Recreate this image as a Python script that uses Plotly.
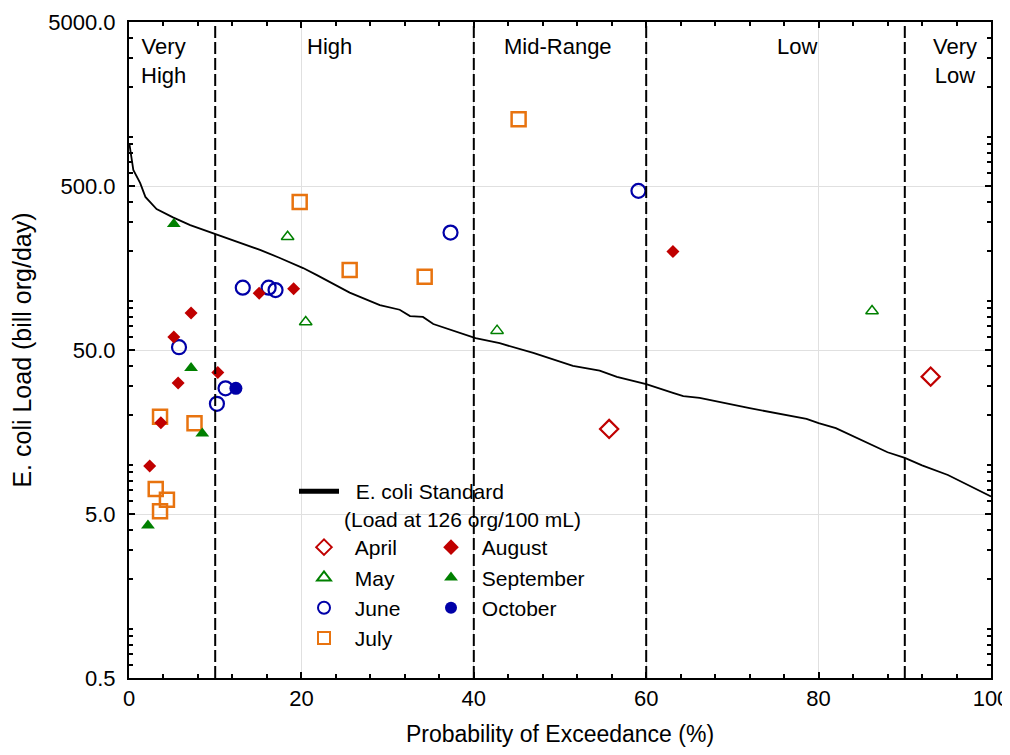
import plotly.graph_objects as go
import math

# E. coli standard duration curve (load at 126 org/100 mL)
std_x = [0.05, 0.2, 0.5, 1.3, 1.9, 3.2, 5.1, 7.1, 10, 13.6, 15.2, 17.5, 20.2, 21.8, 25.6, 29.1,
         31.4, 32.6, 34.1, 35.3, 40.2, 43, 46.9, 51.5, 54.6, 56.6, 60, 63.1, 64.3, 66.2, 72,
         78.6, 80, 82, 85, 88, 90, 92, 95, 98, 100]
std_y = [900, 800, 626, 521, 429, 362, 322, 289, 256, 218, 204, 182, 158, 143, 112, 94,
         88, 80.5, 79.5, 72, 59, 55, 48, 40, 37.4, 34.3, 31, 27.4, 26.2, 25.5, 22.1,
         19, 17.9, 16.7, 14.1, 11.9, 11.0, 9.9, 8.65, 7.2, 6.4]

april_x = [55.7, 93.0]
april_y = [16.5, 34.4]
may_x = [18.4, 20.5, 42.7, 86.2]
may_y = [245, 74, 65.6, 86.5]
june_x = [5.8, 10.2, 11.2, 13.2, 16.2, 17.0, 37.3, 59.1]
june_y = [52, 23.5, 29.2, 120, 120, 116, 260, 467]
july_x = [3.1, 3.6, 3.6, 4.4, 7.6, 19.8, 25.6, 34.3, 45.2]
july_y = [7.1, 5.2, 19.6, 6.1, 17.9, 399, 154, 140, 1276]
aug_x = [2.4, 3.7, 5.2, 5.7, 7.2, 10.3, 15.1, 19.1, 63.1]
aug_y = [9.8, 18.0, 60, 31.5, 84, 36.5, 111, 118, 199]
sep_x = [2.2, 5.2, 7.2, 8.5]
sep_y = [4.25, 293, 38.8, 15.5]
oct_x = [12.4]
oct_y = [29.2]

regime_bounds = [10, 40, 60, 90]
regime_labels = ["Very<br>High", "High", "Mid-Range", "Low", "Very<br>Low"]
regime_label_x = [4.0, 23.3, 49.8, 77.5, 95.8]

y_tickvals = [0.5, 5, 50, 500, 5000]
y_ticktext = ["0.5", "5.0", "50.0", "500.0", "5000.0"]

RED = "#C00000"
GREEN = "#008000"
BLUE = "#0000A8"
ORANGE = "#E8730F"
FONT = "Liberation Sans, Arial, sans-serif"
FS = 22
FS_XTITLE = 23
FS_YTITLE = 25
FS_LEG = 21
NB = "\u00a0"

fig = go.Figure()
fig.add_trace(go.Scatter(x=std_x, y=std_y, mode="lines", line=dict(color="black", width=1.8),
                         name=NB * 2 + "E. coli Standard<br>(Load at 126 org/100 mL)", legend="legend"))

series = [
    ("April", april_x, april_y, "diamond-open", 14, RED, 2.2, "legend2"),
    ("May", may_x, may_y, "triangle-up-open", 11, GREEN, 1.5, "legend2"),
    ("June", june_x, june_y, "circle-open", 14, BLUE, 2.2, "legend2"),
    ("July", july_x, july_y, "square-open", 14, ORANGE, 2.5, "legend2"),
    ("August", aug_x, aug_y, "diamond", 10, RED, 0, "legend3"),
    ("September", sep_x, sep_y, "triangle-up", 12, GREEN, 0, "legend3"),
    ("October", oct_x, oct_y, "circle", 13, BLUE, 0, "legend3"),
]
for name, xs, ys, sym, size, col, lw, lg in series:
    fig.add_trace(go.Scatter(x=xs, y=ys, mode="markers", name=NB + name, legend=lg,
                             marker=dict(symbol=sym, size=size, color=col,
                                         line=dict(color=col, width=lw))))

for b in regime_bounds:
    fig.add_shape(type="line", x0=b, x1=b, y0=0, y1=1, xref="x", yref="paper",
                  line=dict(color="black", width=2, dash="12px,4px"), layer="above")

for lx, lt in zip(regime_label_x, regime_labels):
    fig.add_annotation(x=lx, y=0.985, xref="x", yref="paper", text=lt, showarrow=False,
                       xanchor="center", yanchor="top", font=dict(size=FS, color="black"))

# screen pixel -> paper coordinates (plot area spans x 129..991, y 21..677 on screen)
def px2paper_x(px):
    return (px - 129) / 862.0
def px2paper_y(py):
    return (677 - py) / 656.0

# white legend backdrop hides gridlines
fig.add_shape(type="rect", xref="paper", yref="paper",
              x0=px2paper_x(296), x1=px2paper_x(606), y0=px2paper_y(654), y1=px2paper_y(470),
              fillcolor="white", line=dict(width=0), layer="between")

legend_common = dict(bgcolor="rgba(0,0,0,0)", borderwidth=0, font=dict(size=FS_LEG, color="black"),
                     xanchor="left", yanchor="top", itemsizing="constant", itemwidth=40)
fig.update_layout(
    width=1002, height=739,
    margin=dict(l=121, r=19, t=14, b=69),
    paper_bgcolor="white", plot_bgcolor="white",
    font=dict(family=FONT, size=FS, color="black"),
    showlegend=True,
    legend=dict(x=px2paper_x(294), y=px2paper_y(470), valign="top", **legend_common),
    legend2=dict(x=px2paper_x(299), y=px2paper_y(526), **legend_common),
    legend3=dict(x=px2paper_x(426), y=px2paper_y(526), **legend_common),
    xaxis=dict(range=[0, 100], dtick=20, tick0=0, showgrid=True, gridcolor="#E0E0E0", gridwidth=1,
               zeroline=False, showline=True, linecolor="black", linewidth=2, mirror="allticks",
               ticks="inside", ticklen=6, tickwidth=1.5, tickcolor="black", automargin=False,
               ticklabeloverflow="allow",
               minor=dict(dtick=4, ticks="inside", ticklen=4, tickwidth=1.5, tickcolor="black", showgrid=False),
               title=dict(text="Probability of Exceedance (%)", standoff=17, font=dict(size=FS_XTITLE)),
               tickfont=dict(size=FS)),
    yaxis=dict(type="log", range=[math.log10(0.5), math.log10(5000)],
               tickvals=y_tickvals, ticktext=y_ticktext, showgrid=True, gridcolor="#E0E0E0", gridwidth=1,
               zeroline=False, showline=True, linecolor="black", linewidth=2, mirror="allticks",
               ticks="inside", ticklen=6, tickwidth=1.5, tickcolor="black", automargin=False,
               ticklabelstandoff=7, ticklabeloverflow="allow",
               minor=dict(dtick="D1", ticks="inside", ticklen=4, tickwidth=1.5, tickcolor="black", showgrid=False),
               title=dict(text="E. coli Load (bill org/day)", standoff=19, font=dict(size=FS_YTITLE)),
               tickfont=dict(size=FS)),
)

fig.write_html("out.html")
